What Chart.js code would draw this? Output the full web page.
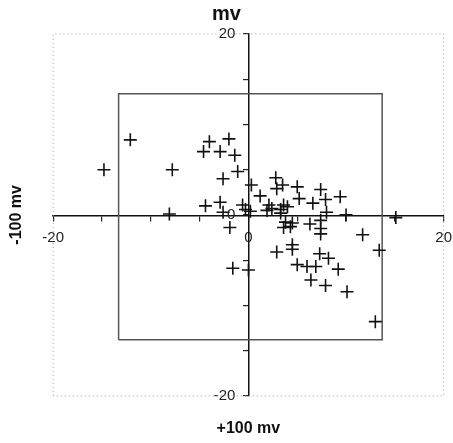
<!DOCTYPE html>
<html><head><meta charset="utf-8">
<script src="https://cdn.jsdelivr.net/npm/chart.js@4.4.1/dist/chart.umd.min.js"></script>
<style>html,body{margin:0;padding:0;background:#fff}</style>
</head><body>
<canvas id="c" width="453" height="443"></canvas>
<script>
// ---- data ----
const xValues = [-12.1,-14.8,-7.8,-4.0,-2.0,-4.6,-2.9,-1.4,-1.1,-2.6,0.3,1.2,
  -8.1,-4.4,-2.9,-2.6,-0.6,-0.3,0.2,-1.9,-1.6,0.0,
  2.8,2.9,3.5,5.0,5.2,6.6,7.4,7.9,9.4,10.0,15.1,11.7,13.4,13.0,
  1.9,2.1,2.4,3.3,3.6,4.0,3.3,8.0,
  3.8,4.5,4.3,3.6,6.3,7.4,7.4,7.4,4.5,4.5,2.9,7.3,8.2,5.0,6.0,6.9,9.2,6.4,7.9,10.1];
const yValues = [8.3,5.0,5.0,8.1,8.4,7.0,7.0,6.6,4.8,4.0,3.3,2.1,
  0.1,1.0,1.4,0.3,1.1,0.6,0.4,-1.4,-5.9,-6.1,
  4.1,2.9,3.3,3.1,1.8,1.3,2.8,1.7,2.0,0.0,-0.3,-2.2,-3.9,-11.8,
  0.5,1.1,0.7,0.6,1.1,0.9,0.2,0.3,
  -0.8,-0.9,-1.3,-1.4,-1.0,-0.6,-1.5,-2.1,-3.3,-3.8,-4.1,-4.3,-4.8,-5.5,-5.7,-5.7,-6.0,-7.2,-7.8,-8.5];
const axisMin = -20, axisMax = 20, tickStep = 5;
const labeledTicks = [-20, 0, 20];
const frameX = [-20, -20, 20, 20, -20];
const frameY = [-20, 20, 20, -20, -20];
const boxX = [-13.3, -13.3, 13.7, 13.7, -13.3];
const boxY = [-13.8, 13.4, 13.4, -13.8, -13.8];
const titleTop = 'mv';
const titleBottom = '+100 mv';
const titleLeft = '-100 mv';

const toPts = (xs, ys) => xs.map((x, i) => ({x, y: ys[i]}));
const FONT = '"Liberation Sans", Arial, sans-serif';

new Chart(document.getElementById('c'), {
  type: 'scatter',
  data: {
    datasets: [
      { data: toPts(frameX, frameY), showLine: true, borderColor: '#9a9a9a', borderWidth: 1,
        borderDash: [1, 3], pointRadius: 0, clip: false, fill: false, order: 3 },
      { data: toPts(boxX, boxY), showLine: true, borderColor: '#555', borderWidth: 1.5,
        pointRadius: 0, clip: false, fill: false, order: 2 },
      { data: toPts(xValues, yValues), pointStyle: 'cross', pointRadius: 6.5,
        borderColor: '#111', borderWidth: 1.6, backgroundColor: '#111', order: 1 }
    ]
  },
  options: {
    responsive: false,
    animation: false,
    layout: { padding: { left: 0, right: 0, top: 0, bottom: 0 } },
    plugins: {
      legend: { display: false },
      tooltip: { enabled: false },
      title: { display: true, text: titleTop, color: '#111',
        font: { family: FONT, size: 20, weight: 'bold' }, padding: { top: 2, bottom: 8 } }
    },
    scales: {
      x: {
        type: 'linear', position: 'center', min: axisMin, max: axisMax,
        grid: { drawOnChartArea: false, drawTicks: true, tickLength: 5, tickColor: '#222', lineWidth: 1.2 },
        border: { display: true, color: '#111', width: 1.5 },
        ticks: { stepSize: tickStep, autoSkip: false, maxRotation: 0, padding: 1, color: '#222',
          font: { family: FONT, size: 15, lineHeight: 2.3 },
          callback: v => labeledTicks.includes(v) ? String(v) : '' }
      },
      y: {
        type: 'linear', position: 'center', min: axisMin, max: axisMax,
        grid: { drawOnChartArea: false, drawTicks: true, tickLength: 5, tickColor: '#222', lineWidth: 1.2 },
        border: { display: true, color: '#111', width: 1.5 },
        ticks: { stepSize: tickStep, autoSkip: false, padding: 8, color: '#222',
          font: { family: FONT, size: 15 },
          callback: v => labeledTicks.includes(v) ? String(v) : '' }
      },
      xTitle: {
        type: 'linear', position: 'bottom', min: axisMin, max: axisMax,
        grid: { display: false, drawTicks: false }, border: { display: false }, ticks: { display: false },
        title: { display: true, text: titleBottom, color: '#111',
          font: { family: FONT, size: 16, weight: 'bold' }, padding: { top: 23, bottom: 5 } }
      },
      yTitle: {
        type: 'linear', position: 'left', min: axisMin, max: axisMax,
        grid: { display: false, drawTicks: false }, border: { display: false }, ticks: { display: false },
        title: { display: true, text: titleLeft, color: '#111',
          font: { family: FONT, size: 16, weight: 'bold' }, padding: { top: 7, bottom: 27 } }
      }
    }
  }
});
</script>
</body></html>
